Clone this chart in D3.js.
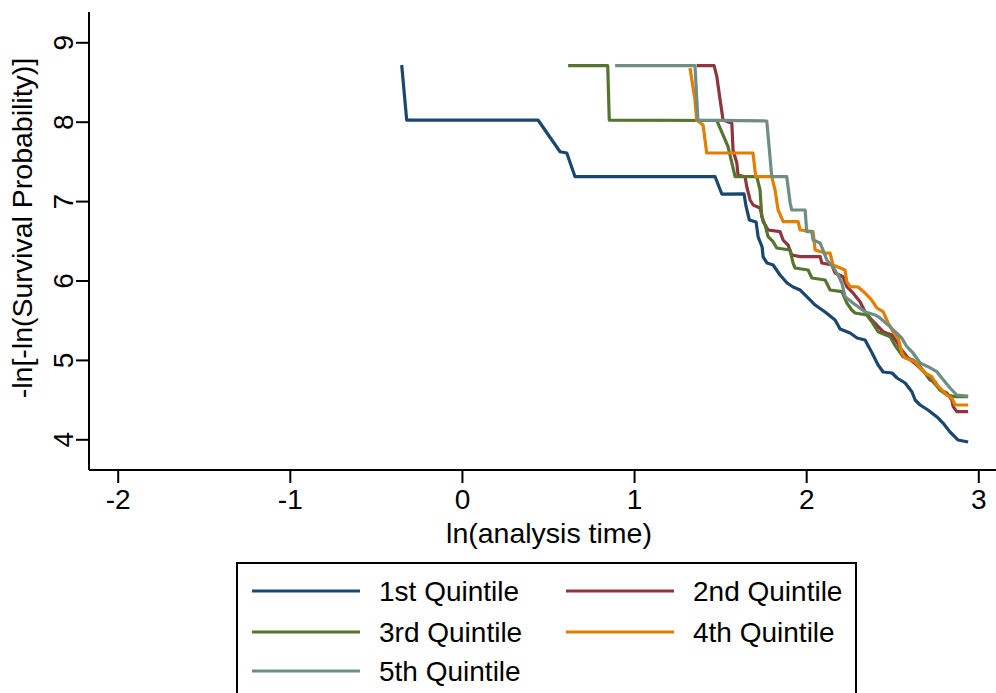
<!DOCTYPE html>
<html>
<head>
<meta charset="utf-8">
<script src="https://cdn.jsdelivr.net/npm/d3@7"></script>
<style>
    body { margin: 0; background: #fff; }
    svg { display: block; font-family: "Liberation Sans", Arial, sans-serif; }
    .tickLabel, .legendLabel { font-size: 28px; fill: #000; }
    .axisLabel { font-size: 28.5px; fill: #000; }
</style>
</head>
<body>
<svg id="chartSVG" width="996" height="693"></svg>
<script>
//////////////////// DATA ////////////////////
// series names and colours (Stata s2color)
const seriesNames = ["1st Quintile", "2nd Quintile", "3rd Quintile", "4th Quintile", "5th Quintile"];
const seriesColors = ["#1a476f", "#90353b", "#55752f", "#e37e00", "#6e8e84"];

// tick values
const xTicks = [-2, -1, 0, 1, 2, 3];
const yTicks = [4, 5, 6, 7, 8, 9];

// ln(analysis time) / -ln[-ln(S)] pairs
const q1X = [-0.350, -0.321, 0.442, 0.570, 0.609, 0.657, 1.471, 1.510, 1.639, 1.651, 1.670, 1.709, 1.721, 1.744, 1.750, 1.773, 1.808, 1.848, 1.889, 1.924, 1.965, 2.011, 2.052, 2.110, 2.168, 2.197, 2.255, 2.296, 2.342, 2.383, 2.418, 2.447, 2.499, 2.528, 2.575, 2.615, 2.633, 2.662, 2.708, 2.760, 2.795, 2.836, 2.883, 2.941];
const q1Y = [8.714, 8.021, 8.021, 7.622, 7.606, 7.307, 7.307, 7.089, 7.090, 6.929, 6.762, 6.737, 6.548, 6.422, 6.296, 6.220, 6.195, 6.069, 5.969, 5.918, 5.880, 5.780, 5.691, 5.603, 5.503, 5.389, 5.339, 5.276, 5.251, 5.087, 4.936, 4.848, 4.835, 4.772, 4.709, 4.596, 4.495, 4.432, 4.369, 4.281, 4.205, 4.092, 3.991, 3.966];

const q2X = [1.364, 1.465, 1.481, 1.500, 1.517, 1.568, 1.575, 1.597, 1.604, 1.645, 1.655, 1.674, 1.692, 1.732, 1.750, 1.779, 1.848, 1.866, 1.895, 1.916, 1.965, 2.081, 2.091, 2.149, 2.168, 2.214, 2.236, 2.272, 2.313, 2.342, 2.381, 2.447, 2.497, 2.526, 2.555, 2.592, 2.643, 2.691, 2.720, 2.749, 2.778, 2.817, 2.846, 2.854, 2.875, 2.941];
const q2Y = [8.705, 8.705, 8.567, 8.273, 8.021, 7.980, 7.644, 7.480, 7.329, 7.307, 7.181, 7.014, 6.951, 6.913, 6.741, 6.636, 6.615, 6.510, 6.447, 6.321, 6.300, 6.300, 6.220, 6.195, 6.094, 6.048, 5.922, 5.843, 5.733, 5.607, 5.503, 5.355, 5.314, 5.229, 5.125, 5.024, 4.936, 4.835, 4.747, 4.725, 4.621, 4.583, 4.495, 4.411, 4.348, 4.348];

const q3X = [0.617, 0.847, 0.856, 1.481, 1.546, 1.587, 1.713, 1.732, 1.742, 1.761, 1.779, 1.808, 1.829, 1.906, 1.924, 1.936, 2.011, 2.033, 2.110, 2.139, 2.207, 2.236, 2.265, 2.284, 2.352, 2.381, 2.418, 2.488, 2.517, 2.563, 2.621, 2.662, 2.708, 2.737, 2.778, 2.817, 2.865, 2.941];
const q3Y = [8.705, 8.705, 8.021, 8.015, 7.685, 7.307, 7.307, 7.140, 6.804, 6.699, 6.552, 6.489, 6.409, 6.384, 6.220, 6.157, 6.132, 6.031, 6.006, 5.880, 5.859, 5.717, 5.628, 5.591, 5.566, 5.481, 5.355, 5.292, 5.180, 5.040, 4.999, 4.914, 4.788, 4.725, 4.621, 4.558, 4.537, 4.537];

const q4X = [1.325, 1.354, 1.364, 1.401, 1.422, 1.691, 1.707, 1.800, 1.819, 1.837, 1.866, 1.953, 1.965, 2.040, 2.052, 2.110, 2.139, 2.156, 2.226, 2.236, 2.255, 2.302, 2.342, 2.381, 2.410, 2.447, 2.476, 2.505, 2.534, 2.556, 2.575, 2.633, 2.662, 2.691, 2.730, 2.759, 2.788, 2.817, 2.846, 2.865, 2.941];
const q4Y = [8.676, 8.273, 8.021, 7.958, 7.606, 7.606, 7.307, 7.307, 7.140, 6.888, 6.741, 6.741, 6.636, 6.615, 6.384, 6.346, 6.346, 6.195, 6.132, 5.985, 5.922, 5.918, 5.843, 5.754, 5.654, 5.607, 5.465, 5.355, 5.276, 5.087, 5.024, 4.977, 4.898, 4.835, 4.788, 4.684, 4.621, 4.558, 4.520, 4.432, 4.432];

const q5X = [0.890, 1.354, 1.371, 1.771, 1.800, 1.887, 1.907, 1.916, 1.994, 2.003, 2.033, 2.040, 2.081, 2.098, 2.120, 2.156, 2.185, 2.207, 2.226, 2.272, 2.342, 2.400, 2.429, 2.476, 2.517, 2.555, 2.585, 2.621, 2.662, 2.708, 2.759, 2.788, 2.836, 2.875, 2.941];
const q5Y = [8.705, 8.705, 8.021, 8.009, 7.307, 7.307, 6.976, 6.888, 6.888, 6.615, 6.615, 6.510, 6.472, 6.384, 6.258, 6.170, 6.069, 5.969, 5.796, 5.717, 5.607, 5.566, 5.528, 5.440, 5.355, 5.276, 5.166, 5.087, 4.961, 4.914, 4.852, 4.772, 4.646, 4.558, 4.545];

const seriesX = [q1X, q2X, q3X, q4X, q5X];
const seriesY = [q1Y, q2Y, q3Y, q4Y, q5Y];


//////////////////// HANDLE SIZES ////////////////////
const chartSVG = d3.select("#chartSVG");

const plotSizes = {
    left: 89,
    right: 996,
    top: 12,
    bottom: 470
};

const legendBox = { x: 237, y: 563, width: 619, height: 140 };


//////////////////// INITIALIZE SCALERS ////////////////////
// ln(analysis time)
const scaleX = d3.scaleLinear()
    .domain([-2, 3])
    .range([117.7, 978.3]);

// -ln[-ln(S)]
const scaleY = d3.scaleLinear()
    .domain([4, 9])
    .range([439.3, 42.3]);


//////////////////// AXES ////////////////////
// x-axis
const xAxisGroup = chartSVG.append("g")
    .attr("transform", `translate(0, ${plotSizes.bottom})`)
    .call(d3.axisBottom(scaleX).tickValues(xTicks).tickSize(13).tickSizeOuter(0).tickFormat(d3.format("d")));

xAxisGroup.select(".domain")
    .attr("d", `M${plotSizes.left},0H${plotSizes.right}`);

xAxisGroup.selectAll(".tick text")
    .attr("class", "tickLabel")
    .attr("font-size", null)
    .attr("font-family", null)
    .attr("dy", "0.92em")
    .attr("y", 13)
    .text(d => d < 0 ? "-" + Math.abs(d) : d);

// y-axis
const yAxisGroup = chartSVG.append("g")
    .attr("transform", `translate(${plotSizes.left}, 0)`)
    .call(d3.axisLeft(scaleY).tickValues(yTicks).tickSize(13).tickSizeOuter(0).tickFormat(d3.format("d")));

yAxisGroup.select(".domain")
    .attr("d", `M0,${plotSizes.top}V${plotSizes.bottom}`);

yAxisGroup.selectAll(".tick text")
    .attr("class", "tickLabel")
    .attr("font-size", null)
    .attr("font-family", null)
    .attr("x", null)
    .attr("dy", null)
    .attr("text-anchor", "middle")
    .attr("transform", "translate(-16, 0) rotate(-90)");

// axis lines thicker, like Stata
chartSVG.selectAll(".domain, .tick line")
    .attr("stroke", "#000")
    .attr("stroke-width", 2);


//////////////////// AXIS TEXT ////////////////////
chartSVG.append("text")
    .attr("class", "axisLabel")
    .attr("x", 549)
    .attr("y", 543)
    .attr("text-anchor", "middle")
    .text("ln(analysis time)");

chartSVG.append("text")
    .attr("class", "axisLabel")
    .attr("text-anchor", "middle")
    .attr("transform", "translate(32, 228) rotate(-90)")
    .text("-ln[-ln(Survival Probability)]");


//////////////////// DRAW LINES ////////////////////
const lineGen = d3.line()
    .x(d => scaleX(d[0]))
    .y(d => scaleY(d[1]));

seriesNames.forEach((name, i) => {
    const points = seriesX[i].map((x, j) => [x, seriesY[i][j]]);
    chartSVG.append("path")
        .datum(points)
        .attr("fill", "none")
        .attr("stroke", seriesColors[i])
        .attr("stroke-width", 3.2)
        .attr("stroke-linejoin", "round")
        .attr("d", lineGen);
});


//////////////////// LEGEND ////////////////////
chartSVG.append("rect")
    .attr("x", legendBox.x)
    .attr("y", legendBox.y)
    .attr("width", legendBox.width)
    .attr("height", legendBox.height)
    .attr("fill", "#fff")
    .attr("stroke", "#000")
    .attr("stroke-width", 2);

const legendCols = [252, 566];
const legendRows = [591, 632, 671];

const legendItems = chartSVG.selectAll(".legendItem")
    .data(seriesNames)
    .enter()
    .append("g")
    .attr("class", "legendItem")
    .attr("transform", (d, i) => `translate(${legendCols[i % 2]}, ${legendRows[Math.floor(i / 2)]})`);

legendItems.append("line")
    .attr("x1", 0)
    .attr("x2", 108)
    .attr("stroke", (d, i) => seriesColors[i])
    .attr("stroke-width", 3);

legendItems.append("text")
    .attr("class", "legendLabel")
    .attr("x", 127)
    .attr("dy", "0.35em")
    .text(d => d);
</script>
</body>
</html>
